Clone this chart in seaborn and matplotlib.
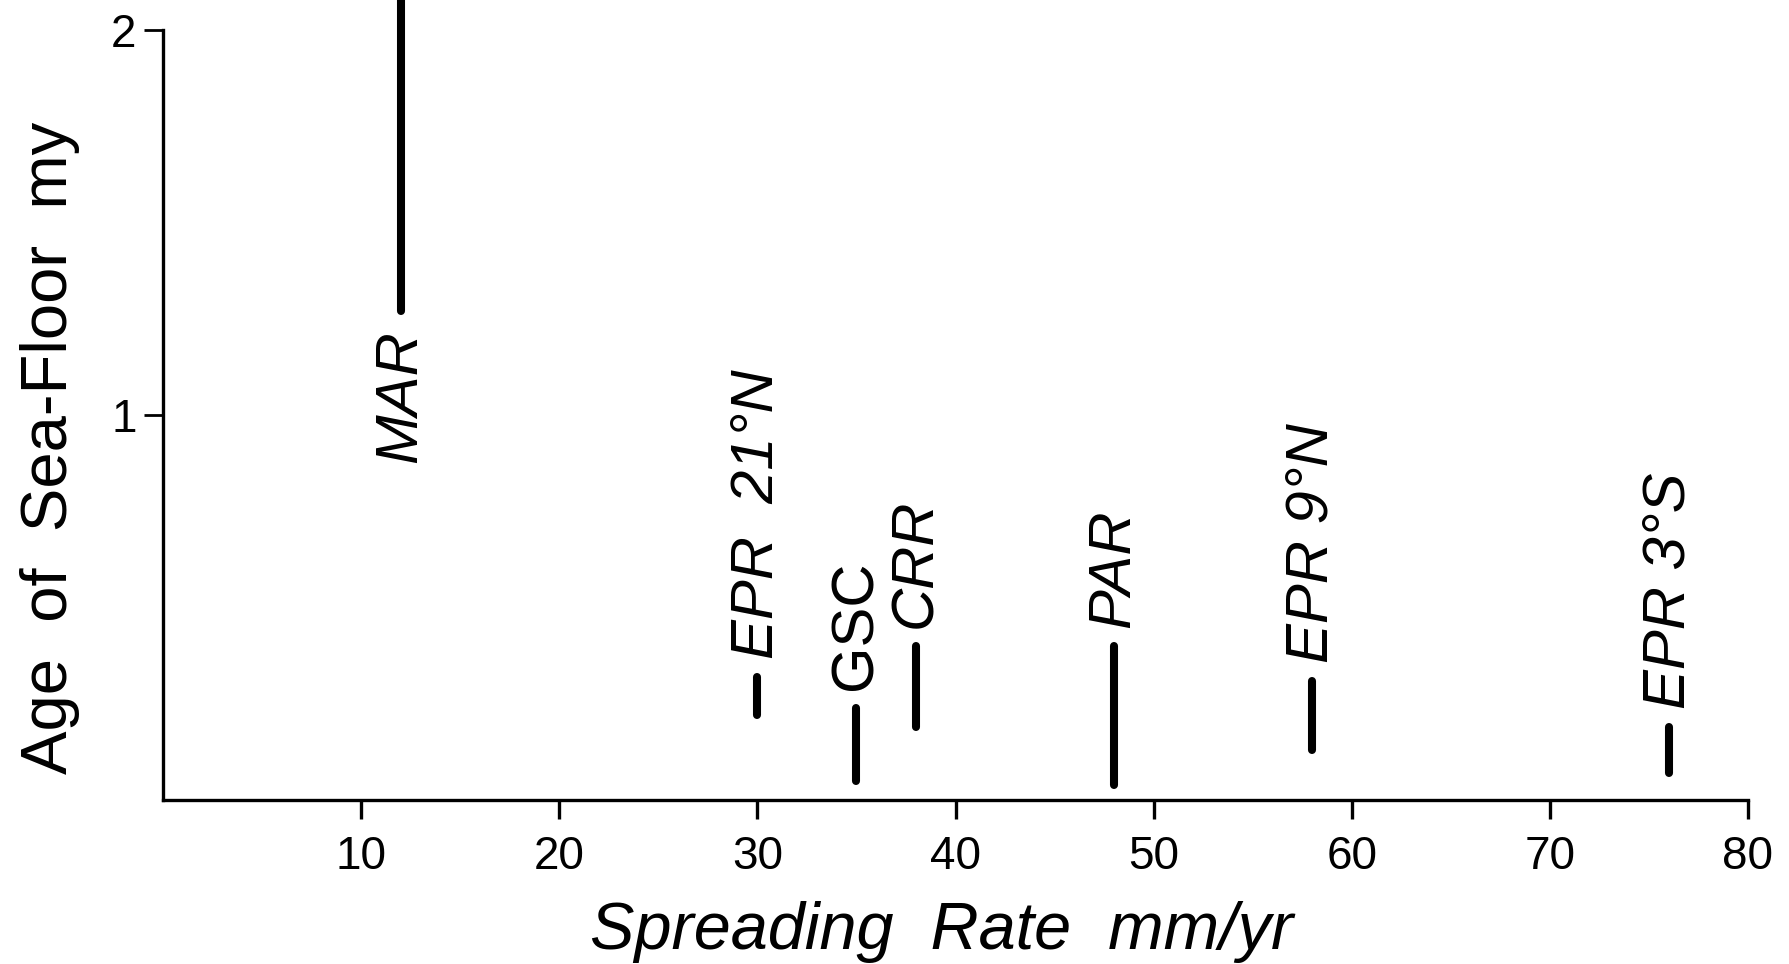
import matplotlib
matplotlib.use("Agg")
import matplotlib.pyplot as plt
import seaborn as sns
import pandas as pd

# ---- data ----
ridges = ["MAR", "EPR  21°N", "GSC", "CRR", "PAR", "EPR 9°N", "EPR 3°S"]
rates = [12, 30, 35, 38, 48, 58, 76]            # spreading rate mm/yr
age_low = [1.27, 0.22, 0.05, 0.19, 0.04, 0.13, 0.07]   # age of sea-floor (my)
age_high = [2.10, 0.32, 0.24, 0.40, 0.40, 0.31, 0.19]
label_italic = [True, True, False, True, True, True, True]
label_below = [True, False, False, False, False, False, False]

x_ticks = [10, 20, 30, 40, 50, 60, 70, 80]
y_ticks = [1, 2]

sns.set_theme(style="ticks")
plt.rcParams["font.family"] = ["Liberation Sans", "DejaVu Sans"]
plt.rcParams["text.color"] = "black"
plt.rcParams["axes.labelcolor"] = "black"
plt.rcParams["xtick.color"] = "black"
plt.rcParams["ytick.color"] = "black"

rows = []
for r, x, lo, hi in zip(ridges, rates, age_low, age_high):
    rows.append({"ridge": r, "rate": x, "age": lo})
    rows.append({"ridge": r, "rate": x, "age": hi})
df = pd.DataFrame(rows)

fig = plt.figure(figsize=(17.9, 9.64), dpi=100)
ax = fig.add_axes([163 / 1790, 164 / 964, 1585 / 1790, 800 / 964])

sns.lineplot(data=df, x="rate", y="age", units="ridge", estimator=None,
             sort=False, color="black", linewidth=5.8, ax=ax, legend=False,
             solid_capstyle="round")

for r, x, lo, hi, it, below in zip(ridges, rates, age_low, age_high,
                                     label_italic, label_below):
    if below:
        ax.annotate(r, (x, lo), xytext=(0, -14), textcoords="offset points",
                    rotation=90, ha="center", va="top", fontsize=43,
                    color="black", fontstyle="italic" if it else "normal")
    else:
        ax.annotate(r, (x, hi), xytext=(0, 13), textcoords="offset points",
                    rotation=90, ha="center", va="bottom", fontsize=43,
                    color="black", fontstyle="italic" if it else "normal")

ax.set_xlim(0, 80)
ax.set_ylim(0, 2.078)
ax.set_xticks(x_ticks)
ax.set_xticklabels([str(t) for t in x_ticks])
ax.set_yticks(y_ticks)
ax.set_yticklabels([str(t) for t in y_ticks])
sns.despine(ax=ax)
ax.spines["left"].set_bounds(0, 2)
for s in ["left", "bottom"]:
    ax.spines[s].set_linewidth(2.4)
    ax.spines[s].set_color("black")
ax.tick_params(axis="x", direction="out", length=14, width=2.4, pad=11,
               labelsize=33, colors="black")
ax.tick_params(axis="y", direction="out", length=14, width=2.0, pad=5,
               labelsize=33, colors="black")

ax.set_xlabel("Spreading  Rate  mm/yr", fontsize=48, fontstyle="italic",
              color="black")
ax.set_ylabel("Age  of  Sea-Floor  my", fontsize=47, color="black")
ax.xaxis.set_label_coords(0.4915, -0.126)
ax.yaxis.set_label_coords(-0.0525, 0.44)

fig.savefig("out.png", dpi=100, facecolor="white")
